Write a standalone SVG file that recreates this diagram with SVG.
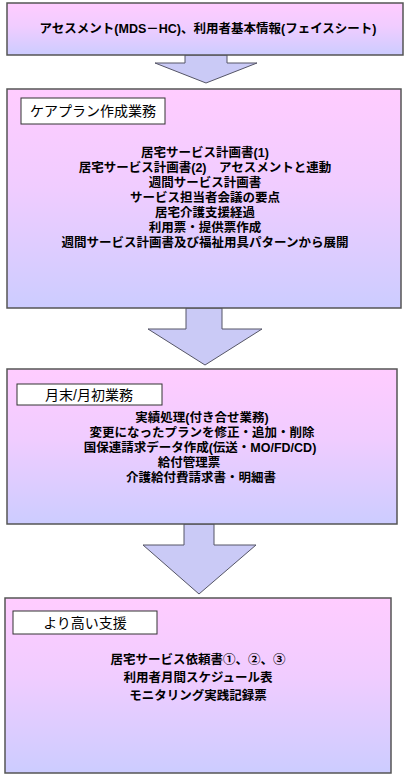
<svg xmlns="http://www.w3.org/2000/svg" width="405" height="775" viewBox="0 0 405 775">
  <defs>
    <linearGradient id="boxGrad" x1="0" y1="0" x2="0" y2="1">
      <stop offset="0" stop-color="#FFCCFF"/>
      <stop offset="0.45" stop-color="#F0CCFF"/>
      <stop offset="1" stop-color="#CCCCFF"/>
    </linearGradient>
  </defs>
  <style>
    .box { fill: url(#boxGrad); stroke: #555555; stroke-width: 1.5; }
    .label { fill: #FFFFFF; stroke: #333333; stroke-width: 1; }
    .arrow { fill: #CACAF6; stroke: #555566; stroke-width: 1; stroke-linejoin: miter; }
    .txt { font-family: "Liberation Sans", "Noto Sans CJK JP", sans-serif; font-weight: bold; font-size: 12.5px; fill: #000000; text-anchor: middle; }
    .lbl { font-family: "Liberation Sans", "Noto Sans CJK JP", sans-serif; font-weight: normal; font-size: 14px; fill: #000000; text-anchor: middle; }
  </style>

  <g id="connectors">
    <polygon class="arrow" points="185,55 227,55 227,63 257,63 206,83 155,63 185,63"/>
    <polygon class="arrow" points="186,308 222,308 222,329 262,329 205,365 148,329 186,329"/>
    <polygon class="arrow" points="184,524 214,524 214,545 256,545 199,594 143,545 184,545"/>
  </g>

  <g id="node-assessment">
    <rect class="box" x="7" y="3" width="396" height="52"/>
    <text class="txt" x="208" y="33">アセスメント(MDS－HC)、利用者基本情報(フェイスシート)</text>
  </g>

  <g id="node-careplan">
    <rect class="box" x="7" y="89" width="394" height="219"/>
    <rect class="label" x="21" y="98" width="144" height="26"/>
    <text class="lbl" x="93" y="116">ケアプラン作成業務</text>
    <text class="txt" x="205" y="157"><tspan x="205" y="157">居宅サービス計画書(1)</tspan><tspan x="205" y="172">居宅サービス計画書(2)　アセスメントと連動</tspan><tspan x="205" y="187">週間サービス計画書</tspan><tspan x="205" y="202">サービス担当者会議の要点</tspan><tspan x="205" y="217">居宅介護支援経過</tspan><tspan x="205" y="232">利用票・提供票作成</tspan><tspan x="205" y="247">週間サービス計画書及び福祉用具パターンから展開</tspan></text>
  </g>

  <g id="node-monthly">
    <rect class="box" x="7" y="369" width="390" height="155"/>
    <rect class="label" x="17" y="384" width="145" height="21"/>
    <text class="lbl" x="89" y="400">月末/月初業務</text>
    <text class="txt" x="202" y="422"><tspan x="202" y="422">実績処理(付き合せ業務)</tspan><tspan x="202" y="437">変更になったプランを修正・追加・削除</tspan><tspan x="200" y="452">国保連請求データ作成(伝送・MO/FD/CD)</tspan><tspan x="189" y="467">給付管理票</tspan><tspan x="201" y="482">介護給付費請求書・明細書</tspan></text>
  </g>

  <g id="node-support">
    <rect class="box" x="5" y="598" width="386" height="175"/>
    <rect class="label" x="13" y="611" width="144" height="23"/>
    <text class="lbl" x="85" y="628">より高い支援</text>
    <text class="txt" x="198" y="664"><tspan x="198" y="664">居宅サービス依頼書①、②、③</tspan><tspan x="198" y="682">利用者月間スケジュール表</tspan><tspan x="198" y="700">モニタリング実践記録票</tspan></text>
  </g>
</svg>
